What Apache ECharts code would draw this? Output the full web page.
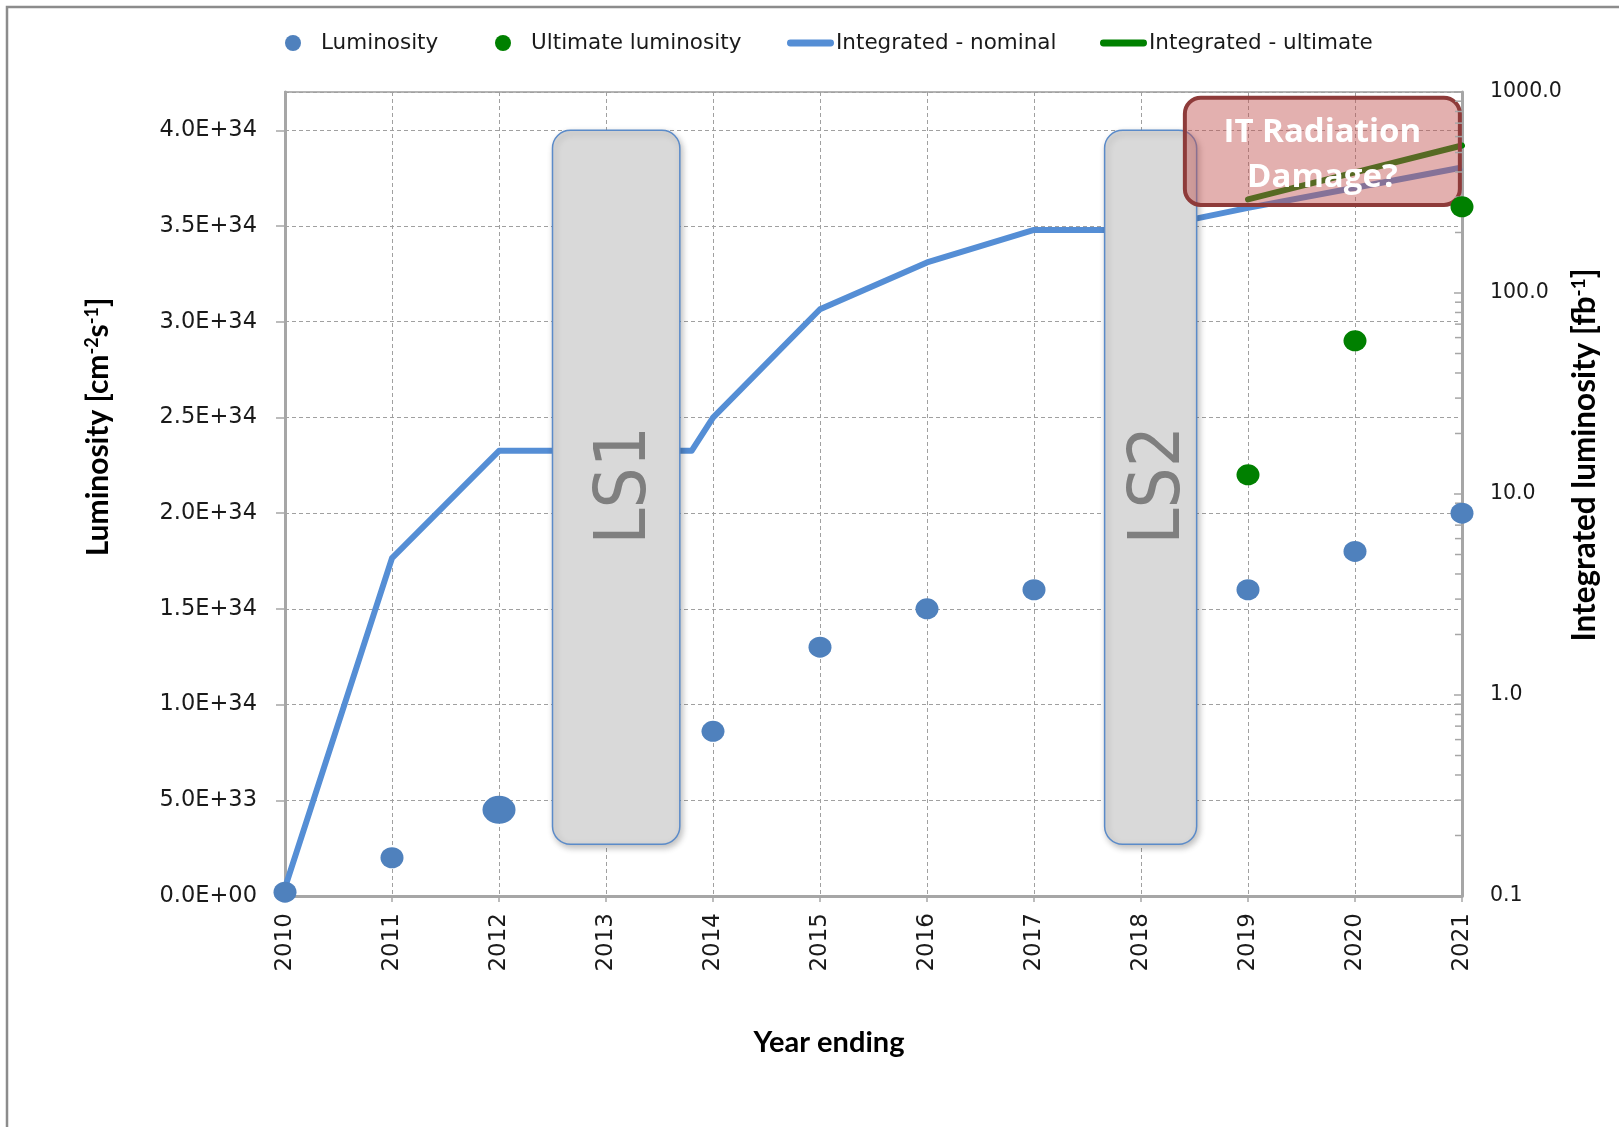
<!DOCTYPE html>
<html>
<head>
<meta charset="utf-8">
<script src="https://cdn.jsdelivr.net/npm/echarts@6/dist/echarts.min.js"></script>
<style>
  html, body { margin: 0; padding: 0; background: #ffffff; }
  #chart { width: 1619px; height: 1127px; }
</style>
</head>
<body>
<div id="chart"></div>
<script>
// Peak luminosity reached by the end of each year [cm^-2 s^-1]
const lumiYears = [2010, 2011, 2012, 2014, 2015, 2016, 2017, 2019, 2020, 2021];
const luminosity = [2e32, 2.0e33, 4.5e33, 8.6e33, 1.3e34, 1.5e34, 1.6e34, 1.6e34, 1.8e34, 2.0e34];
const ultimateYears = [2019, 2020, 2021];
const ultimateLuminosity = [2.2e34, 2.9e34, 3.6e34];

// Integrated luminosity [fb^-1]
const nominalIntYears = [2010, 2011, 2012, 2013.8, 2014, 2015, 2016, 2017, 2018, 2019, 2020, 2021];
const integratedNominal = [0.11, 4.8, 16.4, 16.4, 24, 83, 142, 206, 206, 265, 334, 421];
const ultimateIntYears = [2019, 2020, 2021];
const integratedUltimate = [292, 398, 542];

// Shaded periods: [fromYear, toYear, luminosityLow, luminosityHigh]
const boxLabels = ['LS1', 'LS2', 'IT Radiation\nDamage?'];
const boxSpans = [
  [2012.5, 2013.69, 0.27e34, 4.0e34],
  [2017.66, 2018.52, 0.27e34, 4.0e34],
  [2018.41, 2020.98, 3.61e34, 4.17e34]
];

// Axis ranges and minor ticks of the logarithmic axis
const yearMin = 2010, yearMax = 2021;
const lumiMax = 4.2e34, lumiStep = 0.5e34;
const intMin = 0.1, intMax = 1000;
const logMinorTicks = [
  0.2, 0.3, 0.4, 0.5, 0.6, 0.7, 0.8, 0.9,
  2, 3, 4, 5, 6, 7, 8, 9,
  20, 30, 40, 50, 60, 70, 80, 90,
  200, 300, 400, 500, 600, 700, 800, 900
];

// Legend entries, in display order
const legendNames = ['Luminosity', 'Ultimate luminosity', 'Integrated - nominal', 'Integrated - ultimate'];

const pairs = (xs, ys) => xs.map((x, i) => [x, ys[i]]);
const AXIS_GREY = '#A6A6A6';
const TEXT = '#1a1a1a';
// thick rounded bar used as the legend icon of the line series
const LINE_ICON = 'path://M3.5,0 L44.5,0 A3.5,3.5 0 0 1 44.5,7 L3.5,7 A3.5,3.5 0 0 1 3.5,0 Z';

function sciLabel(v) {
  return v.toExponential(1).toUpperCase().replace(/E([+-])(\d)$/, 'E$10$2');
}

function renderBox(params, api) {
  const tl = api.coord([api.value(0), api.value(3)]);
  const br = api.coord([api.value(1), api.value(2)]);
  const w = br[0] - tl[0];
  const h = br[1] - tl[1];
  const label = boxLabels[params.dataIndex];
  const cx = tl[0] + w / 2;
  const cy = tl[1] + h / 2;
  if (label.indexOf('LS') === 0) {
    return {
      type: 'group',
      children: [
        {
          type: 'rect',
          shape: { x: tl[0], y: tl[1], width: w, height: h, r: 18 },
          style: {
            fill: '#D9D9D9', stroke: '#5B8BC9', lineWidth: 1.5,
            shadowBlur: 6, shadowOffsetX: 2, shadowOffsetY: 3, shadowColor: 'rgba(0,0,0,0.25)'
          }
        },
        {
          type: 'text',
          x: cx + 10, y: cy - 2,
          rotation: Math.PI / 2,
          style: {
            text: label, x: 0, y: 0, align: 'center', verticalAlign: 'middle',
            fill: '#7F7F7F',
            font: '72px "Liberation Sans Narrow", "DejaVu Sans Condensed", "Open Sans", sans-serif'
          }
        }
      ]
    };
  }
  return {
    type: 'group',
    children: [
      {
        type: 'rect',
        shape: { x: tl[0], y: tl[1], width: w, height: h, r: 16 },
        style: { fill: 'rgba(192,80,77,0.45)', stroke: '#8E3B3A', lineWidth: 4 }
      },
      {
        type: 'text',
        x: cx, y: cy + 4,
        style: {
          text: label, x: 0, y: 0, align: 'center', verticalAlign: 'middle',
          fill: '#ffffff', lineHeight: 45,
          font: 'bold 33px "Open Sans", sans-serif'
        }
      }
    ]
  };
}

function renderMinorTick(params, api) {
  const p = api.coord([api.value(0), api.value(1)]);
  return {
    type: 'line',
    shape: { x1: p[0] - 7, y1: p[1], x2: p[0], y2: p[1] },
    style: { stroke: AXIS_GREY, lineWidth: 1.5 }
  };
}

const legendLefts = [280, 490, 782, 1095];
const legends = legendNames.map((name, i) => ({
  data: [i < 2 ? { name: name } : { name: name, icon: LINE_ICON }],
  left: legendLefts[i], top: 27,
  itemWidth: i < 2 ? 46 : 47, itemHeight: 16, itemGap: 0,
  textStyle: { fontFamily: 'DejaVu Sans', fontSize: 21.5, color: TEXT, padding: i < 2 ? 0 : [0, 0, 0, -3] }
}));

const chart = echarts.init(document.getElementById('chart'), null, { renderer: 'canvas' });

chart.setOption({
  animation: false,
  backgroundColor: '#ffffff',
  grid: {
    left: 285, right: 157, top: 92, bottom: 231,
    show: true, borderColor: '#B4B4B4', borderWidth: 2, backgroundColor: 'transparent'
  },
  legend: legends,
  xAxis: {
    type: 'value', min: yearMin, max: yearMax, interval: 1,
    axisLine: { show: true, onZero: false, lineStyle: { color: AXIS_GREY, width: 3 } },
    axisTick: { show: true, length: 6, lineStyle: { color: AXIS_GREY, width: 1.5 } },
    axisLabel: {
      rotate: 90, margin: 17, color: TEXT, fontFamily: 'DejaVu Sans', fontSize: 23,
      formatter: v => String(v)
    },
    splitLine: { show: true, lineStyle: { type: [4, 3], color: '#A0A0A0', width: 1 } }
  },
  yAxis: [
    {
      type: 'value', position: 'left', min: 0, max: lumiMax, interval: lumiStep,
      axisLine: { show: true, onZero: false, lineStyle: { color: AXIS_GREY, width: 3 } },
      axisTick: { show: true, length: 9, lineStyle: { color: AXIS_GREY, width: 1.5 } },
      axisLabel: {
        margin: 28, color: TEXT, fontFamily: 'DejaVu Sans', fontSize: 22.5,
        padding: [8, 0, 0, 0],
        showMaxLabel: false, formatter: sciLabel
      },
      splitLine: { show: true, lineStyle: { type: [4, 3], color: '#A0A0A0', width: 1 } }
    },
    {
      type: 'log', logBase: 10, position: 'right', min: intMin, max: intMax,
      axisLine: { show: true, onZero: false, lineStyle: { color: AXIS_GREY, width: 3 } },
      axisTick: { show: true, inside: true, length: 8, lineStyle: { color: AXIS_GREY, width: 1.5 } },
      axisLabel: {
        margin: 28, color: TEXT, fontFamily: 'DejaVu Sans', fontSize: 20.5,
        padding: [8, 0, 0, 0],
        formatter: v => Number(v).toFixed(1)
      },
      splitLine: { show: false }
    }
  ],
  graphic: [
    {
      type: 'rect', silent: true,
      shape: { x: 7, y: 7, width: 1700, height: 1200 },
      style: { fill: 'none', stroke: '#8C8C8C', lineWidth: 2.5 }
    },
    {
      type: 'text', x: 98, y: 427, rotation: Math.PI / 2,
      style: {
        text: 'Luminosity [cm{sup|-2}s{sup|-1}]',
        align: 'center', verticalAlign: 'middle', fill: '#000000',
        font: 'bold 30px Lato, sans-serif',
        rich: { sup: { fontSize: 18, fontWeight: 'bold', fontFamily: 'Lato', verticalAlign: 'top', fill: '#000000' } }
      }
    },
    {
      type: 'text', x: 1585, y: 455, rotation: Math.PI / 2,
      style: {
        text: 'Integrated luminosity [fb{sup|-1}]',
        align: 'center', verticalAlign: 'middle', fill: '#000000',
        font: 'bold 31.5px Lato, sans-serif',
        rich: { sup: { fontSize: 19, fontWeight: 'bold', fontFamily: 'Lato', verticalAlign: 'top', fill: '#000000' } }
      }
    },
    {
      type: 'text', x: 829, y: 1043,
      style: {
        text: 'Year ending', align: 'center', verticalAlign: 'middle', fill: '#000000',
        font: 'bold 29px Lato, sans-serif'
      }
    }
  ],
  series: [
    {
      name: 'Integrated - nominal', type: 'line', yAxisIndex: 1,
      data: pairs(nominalIntYears, integratedNominal),
      symbol: 'none', z: 2, clip: false,
      itemStyle: { color: '#558ED5' },
      lineStyle: { color: '#558ED5', width: 6, join: 'round' }
    },
    {
      name: 'Integrated - ultimate', type: 'line', yAxisIndex: 1,
      data: pairs(ultimateIntYears, integratedUltimate),
      symbol: 'none', z: 2, clip: false,
      itemStyle: { color: '#008000' },
      lineStyle: { color: '#008000', width: 6, cap: 'round', join: 'round' }
    },
    {
      name: 'periods', type: 'custom', yAxisIndex: 0, z: 3,
      renderItem: renderBox,
      encode: { x: [0, 1], y: [2, 3] },
      data: boxSpans, silent: true
    },
    {
      name: 'log minor ticks', type: 'custom', yAxisIndex: 1, z: 4,
      renderItem: renderMinorTick,
      encode: { x: 0, y: 1 },
      data: logMinorTicks.map(v => [yearMax, v]), silent: true
    },
    {
      name: 'Luminosity', type: 'scatter', yAxisIndex: 0, z: 5, clip: false,
      data: pairs(lumiYears, luminosity),
      symbol: 'circle',
      symbolSize: (val, params) => (params.dataIndex === 2 ? [33, 28] : [23, 21]),
      itemStyle: { color: '#4F81BD', opacity: 1 }
    },
    {
      name: 'Ultimate luminosity', type: 'scatter', yAxisIndex: 0, z: 5, clip: false,
      data: pairs(ultimateYears, ultimateLuminosity),
      symbol: 'circle', symbolSize: [23, 21],
      itemStyle: { color: '#008000', opacity: 1 }
    }
  ]
});
</script>
</body>
</html>
